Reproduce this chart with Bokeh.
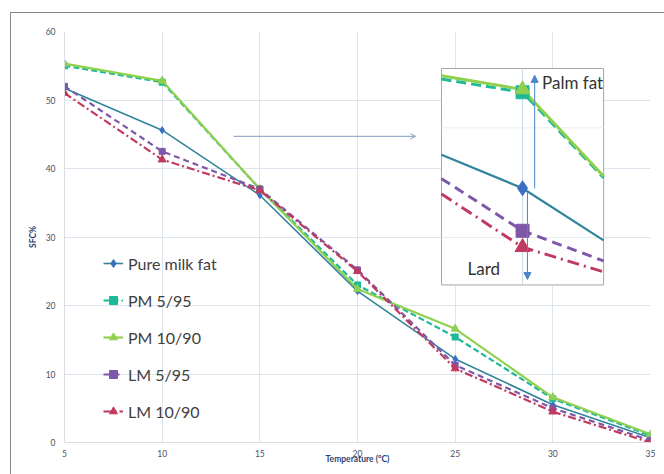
import numpy as np
from bokeh.plotting import figure
from bokeh.models import Range1d, Arrow, NormalHead, OpenHead, Label, FixedTicker, InlineStyleSheet
from bokeh.core.properties import value
from bokeh.embed import file_html
from bokeh.resources import INLINE

# ---- data ----
temps = [5, 10, 15, 20, 25, 30, 35]
pure_milk_fat = [51.7, 45.6, 36.1, 22.1, 12.2, 5.5, 0.7]
pm_5_95 = [55.0, 52.6, 37.0, 23.0, 15.4, 6.4, 1.0]
pm_10_90 = [55.3, 52.8, 37.0, 22.4, 16.6, 6.6, 1.2]
lm_5_95 = [52.0, 42.5, 37.0, 25.2, 11.3, 5.0, 0.3]
lm_10_90 = [51.0, 41.3, 36.8, 25.0, 10.8, 4.5, 0.0]
x_ticks = [5, 10, 15, 20, 25, 30, 35]
y_ticks = [0, 10, 20, 30, 40, 50, 60]

FONT = "Lato"
series = [
    ("Pure milk fat", pure_milk_fat, "#31849B", "#3A6FC4", "diamond", 7, 1.6, "solid", 2.2, "solid"),
    ("PM 5/95", pm_5_95, "#1FB89A", "#1FB89A", "square", 6, 2.2, "6 3", 3, "10 5"),
    ("PM 10/90", pm_10_90, "#8FD14F", "#8FD14F", "triangle", 8, 2.2, "solid", 3, "solid"),
    ("LM 5/95", lm_5_95, "#7E57A8", "#7E57A8", "square", 6, 2.2, "6 4", 3, "10 6"),
    ("LM 10/90", lm_10_90, "#C0395E", "#C0395E", "triangle", 8, 2.2, "8 3 2 3", 3, "12 5 2 5"),
]

p = figure(width=656, height=466, output_backend="svg", toolbar_location=None,
           x_range=Range1d(5, 35), y_range=Range1d(0, 60),
           min_border_left=64, min_border_right=6, min_border_top=31, min_border_bottom=24)
p.outline_line_color = None
p.background_fill_color = "white"

# outer chart border (top and left edges, as in the source figure)
p.stylesheets = [InlineStyleSheet(css="""
:host { position: relative; }
:host::after {
  content: ""; position: absolute; left: 10px; top: 12px; right: -20px; bottom: -20px;
  border-top: 1px solid #8a8a8a; border-left: 1px solid #8a8a8a; pointer-events: none;
}
""")]

p.xaxis.ticker = FixedTicker(ticks=x_ticks)
p.yaxis.ticker = FixedTicker(ticks=y_ticks)
for ax in (p.xaxis[0], p.yaxis[0]):
    ax.axis_line_color = "#D9DEE6"
    ax.major_tick_line_color = None
    ax.minor_tick_line_color = None
    ax.major_label_text_font = FONT
    ax.major_label_text_font_size = "8.5px"
    ax.major_label_text_color = "#4A5068"
    ax.axis_label_text_font = FONT
    ax.axis_label_text_font_size = "8.5px"
    ax.axis_label_text_font_style = "bold"
    ax.axis_label_text_color = "#2F3F6F"
p.yaxis.axis_label = "SFC%"
p.xaxis.axis_label = "Temperature (°C)"
p.xaxis.major_label_standoff = 1
p.xaxis.axis_label_standoff = -6
p.yaxis.major_label_standoff = 3
p.yaxis.axis_label_standoff = 5
p.xgrid.grid_line_color = "#DCE4EE"
p.ygrid.grid_line_color = "#DCE4EE"
p.xgrid.ticker = FixedTicker(ticks=x_ticks)
p.ygrid.ticker = FixedTicker(ticks=y_ticks)

for name, ys, lc, mc, mk, ms, lw, dash, ilw, idash in series:
    p.line(temps, ys, line_color=lc, line_width=lw, line_dash=dash, legend_label=name)
    p.scatter(temps, ys, marker=mk, size=ms, fill_color=mc, line_color=mc, legend_label=name)

# ---- inset (zoom near 10 °C) ----
ix0, ix1 = 24.3, 32.6   # inset box, main data coords
iy0, iy1 = 23.0, 54.6
dx0, dx1 = 8.0, 12.0    # inset's own data window
dy0, dy1 = 38.55, 54.33

def tx(x):
    return ix0 + (np.asarray(x, float) - dx0) / (dx1 - dx0) * (ix1 - ix0)

def ty(y):
    return iy0 + (np.asarray(y, float) - dy0) / (dy1 - dy0) * (iy1 - iy0)

p.quad(left=[ix0], right=[ix1], bottom=[iy0], top=[iy1], fill_color="white",
       line_color="#A6A6A6", line_width=1)
p.segment(x0=[tx(10)], x1=[tx(10)], y0=[iy0], y1=[iy1], line_color="#C9D8EA", line_width=1)
for gy in (42, 50):
    p.segment(x0=[ix0], x1=[ix1], y0=[ty(gy)], y1=[ty(gy)], line_color="#E6EBF1", line_width=1)

xs_in = [dx0, 10, dx1]
inset_ms = {"diamond": 15, "square": 13, "triangle": 15}
for name, ys, lc, mc, mk, ms, lw, dash, ilw, idash in series:
    yv = np.interp(xs_in, temps, ys)
    p.line(tx(xs_in), ty(yv), line_color=lc, line_width=ilw, line_dash=idash)
for name, ys, lc, mc, mk, ms, lw, dash, ilw, idash in series:
    yv = np.interp([10], temps, ys)
    p.scatter(tx([10]), ty(yv), marker=mk, size=inset_ms[mk], fill_color=mc, line_color=mc)

# arrows
p.add_layout(Arrow(end=OpenHead(size=5, line_color="#7F9DBF", line_width=1),
                   x_start=13.65, y_start=44.7, x_end=22.97, y_end=44.7,
                   line_color="#7F9DBF", line_width=1))
p.add_layout(Arrow(end=NormalHead(size=7, fill_color="#4A86C8", line_color="#4A86C8"),
                   x_start=29.07, y_start=37.1, x_end=29.07, y_end=53.6,
                   line_color="#4A86C8", line_width=1))
p.add_layout(Arrow(end=NormalHead(size=7, fill_color="#4A86C8", line_color="#4A86C8"),
                   x_start=28.7, y_start=36.7, x_end=28.7, y_end=23.8,
                   line_color="#4A86C8", line_width=1))
p.add_layout(Label(x=29.45, y=52.6, text="Palm fat", text_font=FONT, text_font_size="17px",
                   text_color="#333333", text_baseline="middle"))
p.add_layout(Label(x=27.3, y=25.4, text="Lard", text_font=FONT, text_font_size="17px",
                   text_color="#333333", text_baseline="middle", text_align="right"))

lg = p.legend[0]
lg.location = (39, 21)
lg.border_line_color = None
lg.background_fill_alpha = 0
lg.padding = 0
lg.margin = 0
lg.spacing = 17
lg.glyph_width = 20
lg.glyph_height = 20
lg.label_height = 20
lg.label_standoff = 5
lg.label_text_font = FONT
lg.label_text_font_size = "16px"
lg.label_text_color = "#404040"

open("out.html", "w").write(file_html(p, INLINE))
